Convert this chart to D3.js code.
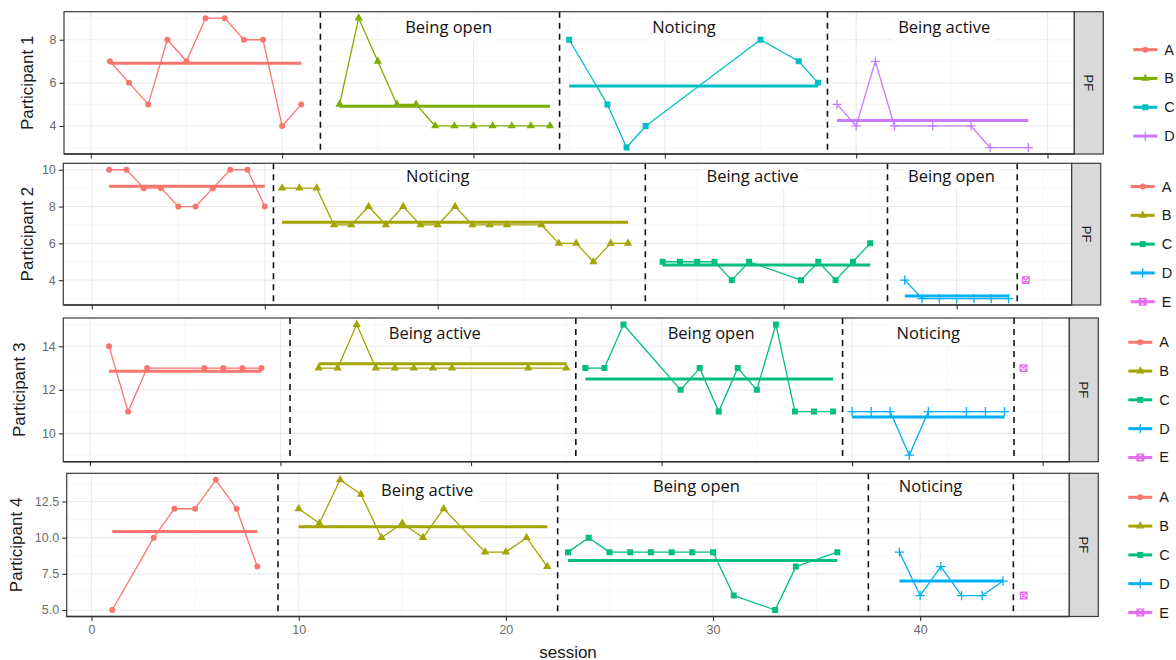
<!DOCTYPE html>
<html>
<head>
<meta charset="utf-8">
<script src="https://cdn.jsdelivr.net/npm/d3@7"></script>
<style>
  body { margin: 0; background: #fff; }
  svg { display: block; }
</style>
</head>
<body>
<svg id="chart" width="1176" height="660"></svg>
<script>
// ---- Session scores per participant and phase: [session, score] ----
const p1A = [[1,7],[2,6],[3,5],[4,8],[5,7],[6,9],[7,9],[8,8],[9,8],[10,4],[11,5]];
const p1B = [[13,5],[14,9],[15,7],[16,5],[17,5],[18,4],[19,4],[20,4],[21,4],[22,4],[23,4],[24,4]];
const p1C = [[25,8],[27,5],[28,3],[29,4],[35,8],[37,7],[38,6]];
const p1D = [[39,5],[40,4],[41,7],[42,4],[44,4],[46,4],[47,3],[49,3]];

const p2A = [[1,10],[2,10],[3,9],[4,9],[5,8],[6,8],[7,9],[8,10],[9,10],[10,8]];
const p2B = [[11,9],[12,9],[13,9],[14,7],[15,7],[16,8],[17,7],[18,8],[19,7],[20,7],[21,8],[22,7],[23,7],[24,7],[26,7],[27,6],[28,6],[29,5],[30,6],[31,6]];
const p2C = [[33,5],[34,5],[35,5],[36,5],[37,4],[38,5],[41,4],[42,5],[43,4],[44,5],[45,6]];
const p2D = [[47,4],[48,3],[49,3],[50,3],[51,3],[52,3],[53,3]];
const p2E = [[54,4]];

const p3A = [[1,14],[2,11],[3,13],[6,13],[7,13],[8,13],[9,13]];
const p3B = [[12,13],[13,13],[14,15],[15,13],[16,13],[17,13],[18,13],[19,13],[23,13],[25,13]];
const p3C = [[26,13],[27,13],[28,15],[31,12],[32,13],[33,11],[34,13],[35,12],[36,15],[37,11],[38,11],[39,11]];
const p3D = [[40,11],[41,11],[42,11],[43,9],[44,11],[46,11],[47,11],[48,11]];
const p3E = [[49,13]];

const p4A = [[1,5],[3,10],[4,12],[5,12],[6,14],[7,12],[8,8]];
const p4B = [[10,12],[11,11],[12,14],[13,13],[14,10],[15,11],[16,10],[17,12],[19,9],[20,9],[21,10],[22,8]];
const p4C = [[23,9],[24,10],[25,9],[26,9],[27,9],[28,9],[29,9],[30,9],[31,6],[33,5],[34,8],[36,9]];
const p4D = [[39,9],[40,6],[41,8],[42,6],[43,6],[44,7]];
const p4E = [[45,6]];

// ---- Categories, labels and ticks ----
const participantNames = ["Participant 1", "Participant 2", "Participant 3", "Participant 4"];
const phaseKeys4 = ["A", "B", "C", "D"];
const phaseKeys5 = ["A", "B", "C", "D", "E"];
const palette4 = ["#F8766D", "#7CAE00", "#00BFC4", "#C77CFF"];
const palette5 = ["#F8766D", "#A3A500", "#00BF7D", "#00B0F6", "#E76BF3"];
const stripLabel = "PF";
const xTitle = "session";
const xTickValues = [0, 10, 20, 30, 40, 50];
const p1YTicks = [4, 6, 8];
const p2YTicks = [4, 6, 8, 10];
const p3YTicks = [10, 12, 14];
const p4YTicks = [5, 7.5, 10, 12.5];

// Phase names written inside each panel, anchored in session / score units
const p1Notes = ["Being open", "Noticing", "Being active"];
const p1NoteAt = [[18.7, 8.6], [31.0, 8.6], [44.6, 8.6]];
const p2Notes = ["Noticing", "Being active", "Being open"];
const p2NoteAt = [[20.0, 9.66], [38.2, 9.66], [49.7, 9.66]];
const p3Notes = ["Being active", "Being open", "Noticing"];
const p3NoteAt = [[18.1, 14.62], [32.6, 14.62], [44.0, 14.62]];
const p4Notes = ["Being active", "Being open", "Noticing"];
const p4NoteAt = [[16.2, 13.36], [29.2, 13.64], [40.5, 13.64]];

const participants = [
  { name: participantNames[0], series: [p1A, p1B, p1C, p1D], keys: phaseKeys4, colors: palette4,
    yTicks: p1YTicks, notes: p1Notes, noteAt: p1NoteAt, fmt: d3.format("d") },
  { name: participantNames[1], series: [p2A, p2B, p2C, p2D, p2E], keys: phaseKeys5, colors: palette5,
    yTicks: p2YTicks, notes: p2Notes, noteAt: p2NoteAt, fmt: d3.format("d") },
  { name: participantNames[2], series: [p3A, p3B, p3C, p3D, p3E], keys: phaseKeys5, colors: palette5,
    yTicks: p3YTicks, notes: p3Notes, noteAt: p3NoteAt, fmt: d3.format("d") },
  { name: participantNames[3], series: [p4A, p4B, p4C, p4D, p4E], keys: phaseKeys5, colors: palette5,
    yTicks: p4YTicks, notes: p4Notes, noteAt: p4NoteAt, fmt: d3.format(".1f") }
];

// ---- Layout of the four stacked panels ----
const frames = [
  { top: 11.7,  bottom: 154,   left: 64,   right: 1074.3, titleX: 27.5 },
  { top: 163.3, bottom: 305,   left: 63.3, right: 1071.7, titleX: 27 },
  { top: 318,   bottom: 461.7, left: 63.3, right: 1069.3, titleX: 19 },
  { top: 473.3, bottom: 616.5, left: 66.7, right: 1069.3, titleX: 16.5 }
];
const stripW = 29;
const axisFont = "'Liberation Sans', Arial, Helvetica, sans-serif";
const noteFont = "'Open Sans', 'Noto Sans', sans-serif";

const expand = ([a, b]) => { const d = (b - a) * 0.05; return [a - d, b + d]; };

// Marker shapes: circle, filled triangle, filled square, plus, boxed cross
const markerPath = [
  d3.symbol(d3.symbolCircle, 28)(),
  d3.symbol(d3.symbolTriangle, 30)(),
  d3.symbol(d3.symbolSquare, 36)(),
  "M-4.6,0H4.6M0,-4.6V4.6",
  "M-3.3,-3.3H3.3V3.3H-3.3ZM-3.3,-3.3L3.3,3.3M3.3,-3.3L-3.3,3.3"
];
const markerStroked = [false, false, false, true, true];

function drawMarker(sel, i, color) {
  sel.append("path")
    .attr("d", markerPath[i])
    .attr("fill", markerStroked[i] ? "none" : color)
    .attr("stroke", markerStroked[i] ? color : "none")
    .attr("stroke-width", markerStroked[i] ? 1.3 : 0);
}

const svg = d3.select("#chart");
const defs = svg.append("defs");

participants.forEach((p, pi) => {
  const f = frames[pi];
  const all = p.series.flat();
  const x = d3.scaleLinear().domain(expand(d3.extent(all, d => d[0]))).range([f.left, f.right]);
  const y = d3.scaleLinear().domain(expand(d3.extent(all, d => d[1]))).range([f.bottom, f.top]);
  const [x0, x1] = x.domain();
  const [y0, y1] = y.domain();

  const g = svg.append("g").attr("class", "panel");
  const clipId = "clip-" + pi;
  defs.append("clipPath").attr("id", clipId).append("rect")
    .attr("x", f.left).attr("y", f.top)
    .attr("width", f.right - f.left).attr("height", f.bottom - f.top);

  // Grid: minor then major
  const xMajor = xTickValues.filter(v => v >= x0 && v <= x1);
  const xStep = xTickValues[1] - xTickValues[0];
  const xMinor = d3.range(xTickValues[0] - xStep / 2, x1, xStep).filter(v => v >= x0 && v <= x1);
  const yStep = p.yTicks[1] - p.yTicks[0];
  const yMinor = d3.range(p.yTicks[0] - yStep / 2, y1 + 1e-9, yStep).filter(v => v >= y0 && v <= y1);

  const grid = g.append("g");
  grid.selectAll(".xmin").data(xMinor).join("line")
    .attr("x1", d => x(d)).attr("x2", d => x(d)).attr("y1", f.top).attr("y2", f.bottom)
    .attr("stroke", "#F4F4F4").attr("stroke-width", 0.7);
  grid.selectAll(".ymin").data(yMinor).join("line")
    .attr("y1", d => y(d)).attr("y2", d => y(d)).attr("x1", f.left).attr("x2", f.right)
    .attr("stroke", "#F4F4F4").attr("stroke-width", 0.7);
  grid.selectAll(".xmaj").data(xMajor).join("line")
    .attr("x1", d => x(d)).attr("x2", d => x(d)).attr("y1", f.top).attr("y2", f.bottom)
    .attr("stroke", "#EBEBEB").attr("stroke-width", 1.1);
  grid.selectAll(".ymaj").data(p.yTicks).join("line")
    .attr("y1", d => y(d)).attr("y2", d => y(d)).attr("x1", f.left).attr("x2", f.right)
    .attr("stroke", "#EBEBEB").attr("stroke-width", 1.1);

  const plot = g.append("g").attr("clip-path", `url(#${clipId})`);
  const line = d3.line().x(d => x(d[0])).y(d => y(d[1]));

  // Session series for every phase
  p.series.forEach((s, si) => {
    plot.append("path").datum(s).attr("d", line)
      .attr("fill", "none").attr("stroke", p.colors[si]).attr("stroke-width", 1.3)
      .attr("stroke-linejoin", "round");
  });
  // Phase means
  p.series.forEach((s, si) => {
    if (s.length < 2) return;
    const m = d3.mean(s, d => d[1]);
    const ext = d3.extent(s, d => d[0]);
    plot.append("line")
      .attr("x1", x(ext[0])).attr("x2", x(ext[1])).attr("y1", y(m)).attr("y2", y(m))
      .attr("stroke", p.colors[si]).attr("stroke-width", 3);
  });
  // Points
  p.series.forEach((s, si) => {
    plot.selectAll(null).data(s).join("g")
      .attr("transform", d => `translate(${x(d[0])},${y(d[1])})`)
      .each(function () { drawMarker(d3.select(this), si, p.colors[si]); });
  });

  // Phase change lines halfway between consecutive phases
  const cuts = p.series.slice(1).map((s, si) => {
    const prev = p.series[si];
    return (d3.max(prev, d => d[0]) + d3.min(s, d => d[0])) / 2;
  });
  plot.selectAll(".cut").data(cuts).join("line")
    .attr("x1", d => x(d)).attr("x2", d => x(d)).attr("y1", f.top).attr("y2", f.bottom)
    .attr("stroke", "#111").attr("stroke-width", 1.6).attr("stroke-dasharray", "6,5");

  // Phase names with white boxes
  p.notes.forEach((t, ti) => {
    const [sx, sy] = p.noteAt[ti];
    const ng = plot.append("g");
    const txt = ng.append("text")
      .attr("x", x(sx)).attr("y", y(sy)).attr("text-anchor", "middle")
      .attr("dominant-baseline", "central")
      .attr("font-family", noteFont).attr("font-size", 16.5).attr("fill", "#111").text(t);
    const bb = txt.node().getBBox();
    ng.insert("rect", "text")
      .attr("x", bb.x - 5).attr("y", bb.y - 2).attr("width", bb.width + 10).attr("height", bb.height + 4)
      .attr("fill", "#fff");
  });

  // Panel border
  g.append("rect")
    .attr("x", f.left).attr("y", f.top).attr("width", f.right - f.left).attr("height", f.bottom - f.top)
    .attr("fill", "none").attr("stroke", "#3a3a3a").attr("stroke-width", 1.2);
  g.append("line")
    .attr("x1", f.left).attr("x2", f.right).attr("y1", f.bottom).attr("y2", f.bottom)
    .attr("stroke", "#333").attr("stroke-width", 1.6);

  // Axes
  const yAxis = g.append("g").attr("transform", `translate(${f.left},0)`)
    .call(d3.axisLeft(y).tickValues(p.yTicks).tickFormat(p.fmt).tickSize(4.5).tickPadding(3));
  const last = pi === participants.length - 1;
  const xAxis = g.append("g").attr("transform", `translate(0,${f.bottom})`)
    .call(d3.axisBottom(x).tickValues(xMajor).tickFormat(last ? d3.format("d") : () => "")
      .tickSize(4.5).tickPadding(4));
  [yAxis, xAxis].forEach(a => {
    a.select(".domain").remove();
    a.selectAll(".tick line").attr("stroke", "#333").attr("stroke-width", 1.1);
    a.selectAll(".tick text").attr("fill", "#6b6b6b").attr("font-size", 12.5).attr("font-family", axisFont);
  });

  // Axis title
  g.append("text")
    .attr("transform", `translate(${f.titleX},${(f.top + f.bottom) / 2}) rotate(-90)`)
    .attr("text-anchor", "middle").attr("dominant-baseline", "central")
    .attr("font-family", axisFont).attr("font-size", 17).attr("fill", "#1a1a1a").text(p.name);

  // Facet strip
  g.append("rect")
    .attr("x", f.right).attr("y", f.top).attr("width", stripW).attr("height", f.bottom - f.top)
    .attr("fill", "#D9D9D9").attr("stroke", "#3a3a3a").attr("stroke-width", 1.2);
  g.append("text")
    .attr("transform", `translate(${f.right + stripW / 2},${(f.top + f.bottom) / 2}) rotate(90)`)
    .attr("text-anchor", "middle").attr("dominant-baseline", "central")
    .attr("font-family", axisFont).attr("font-size", 13).attr("fill", "#1a1a1a").text(stripLabel);

  // Legend
  const n = p.keys.length;
  const cy = (f.top + f.bottom) / 2 + 10;
  const lx = f.right + stripW + 30;
  const leg = g.append("g");
  p.keys.forEach((k, ki) => {
    const ky = cy + (ki - (n - 1) / 2) * 28.8;
    const item = leg.append("g").attr("transform", `translate(${lx},${ky})`);
    item.append("line").attr("x1", 0).attr("x2", 24).attr("y1", 0).attr("y2", 0)
      .attr("stroke", p.colors[ki]).attr("stroke-width", 3);
    const mk = item.append("g").attr("transform", "translate(12,0)");
    drawMarker(mk, ki, p.colors[ki]);
    item.append("text").attr("x", 31).attr("y", 0).attr("dominant-baseline", "central")
      .attr("font-family", axisFont).attr("font-size", 14.5).attr("fill", "#1a1a1a").text(k);
  });

  if (last) {
    g.append("text")
      .attr("x", (f.left + f.right) / 2).attr("y", 652)
      .attr("text-anchor", "middle").attr("dominant-baseline", "central")
      .attr("font-family", axisFont).attr("font-size", 17).attr("fill", "#1a1a1a").text(xTitle);
  }
});
</script>
</body>
</html>
